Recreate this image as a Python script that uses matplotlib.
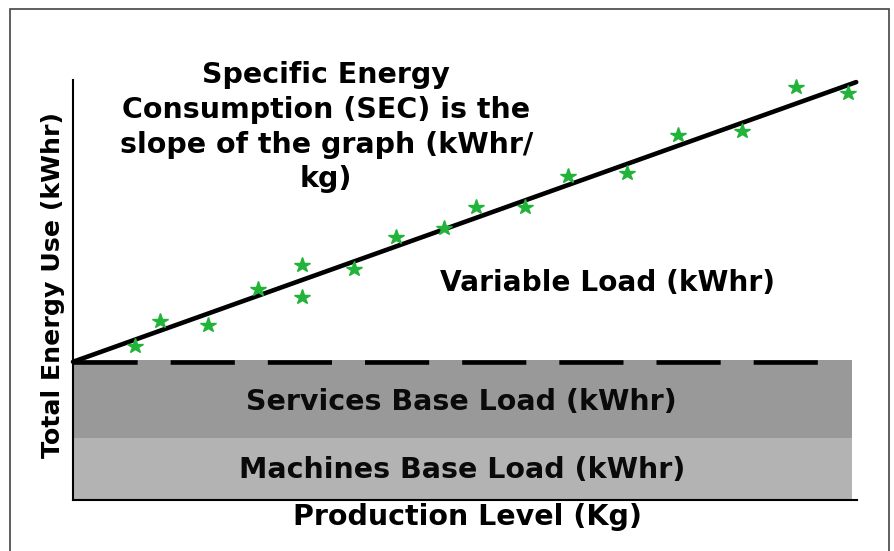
import matplotlib
matplotlib.use("Agg")
import matplotlib.pyplot as plt
from matplotlib.patches import Rectangle

# ---- data ----
prod_x = [7.9, 11.1, 17.2, 23.6, 29.2, 29.2, 35.9, 41.2, 47.3, 51.4, 57.7,
          63.1, 70.7, 77.2, 85.3, 92.2, 98.9]
energy_y = [36.7, 42.6, 41.7, 50.2, 56.0, 48.3, 55.0, 62.6, 64.8, 69.8, 69.8,
            77.1, 77.9, 86.9, 87.9, 98.3, 96.9]
fit_x = [0.0, 99.9]
fit_y = [32.9, 99.5]
base_total = 32.9
machines_load = 14.76
services_load = 18.57
bar_extent = 99.4
dash_extent = 95.4

title_lines = ["Specific Energy", "Consumption (SEC) is the",
               "slope of the graph (kWhr/", "kg)"]
variable_label = "Variable Load (kWhr)"
services_label = "Services Base Load (kWhr)"
machines_label = "Machines Base Load (kWhr)"
x_label = "Production Level (Kg)"
y_label = "Total Energy Use (kWhr)"

W, H = 895, 551
fig = plt.figure(figsize=(W / 100, H / 100), dpi=100)
plt.rcParams['font.family'] = ['DejaVu Sans']

# outer frame
fig.patches.append(Rectangle((10 / W, -0.1), (889 - 10) / W, 1 - 9 / H + 0.1,
                             transform=fig.transFigure, fill=False,
                             ec='#444444', lw=1.2))

ax = fig.add_axes([73 / W, (H - 500) / H, (857 - 73) / W, 420 / H])
ax.set_xlim(0, 100)
ax.set_ylim(0, 100)

# base loads
ax.bar(0, machines_load, width=bar_extent, align='edge', bottom=0,
       color='#b3b3b3', zorder=1)
ax.bar(0, services_load, width=bar_extent, align='edge', bottom=machines_load,
       color='#999999', zorder=1)

# dashed base line
ax.plot([0, dash_extent], [base_total, base_total], color='black', lw=3.3,
        linestyle=(0, (14, 7.2)), dash_capstyle='butt', zorder=2)

# SEC fit line
ax.plot(fit_x, fit_y, color='black', lw=3.3, solid_capstyle='round', zorder=3,
        clip_on=False)

# observations
ax.plot(prod_x, energy_y, linestyle='none', marker='*', ms=11.5,
        color='#22b33a', mec='#22b33a', zorder=4, clip_on=False)

fs = 20.5
title_baselines = [99.3, 91.0, 82.6, 74.5]
for line, yb in zip(title_lines, title_baselines):
    ax.text(32.3, yb, line, ha='center', va='baseline', fontsize=fs,
            fontweight='bold', color='black')

ax.text(68.2, 49.8, variable_label, ha='center', va='baseline', fontsize=20.2,
        fontweight='bold', color='black')
ax.text(49.6, 21.4, services_label, ha='center', va='baseline', fontsize=fs,
        fontweight='bold', color='#0a0a0a', zorder=5)
ax.text(49.6, 5.2, machines_label, ha='center', va='baseline', fontsize=fs,
        fontweight='bold', color='#0a0a0a', zorder=5)

ax.set_xlabel(x_label, fontsize=20.5, fontweight='bold')
ax.xaxis.label.set_va('baseline')
ax.xaxis.set_label_coords((468 - 73) / 784, (500 - 525) / 420)
ax.set_ylabel(y_label, fontsize=18.2, fontweight='bold')
ax.yaxis.label.set_va('center')
ax.yaxis.set_label_coords((53 - 73) / 784, (500 - 285) / 420)

ax.set_xticks([])
ax.set_yticks([])
for s in ['top', 'right']:
    ax.spines[s].set_visible(False)
for s in ['left', 'bottom']:
    ax.spines[s].set_linewidth(1.5)
    ax.spines[s].set_color('black')
    ax.spines[s].set_zorder(6)

fig.savefig('out.png', dpi=100)
